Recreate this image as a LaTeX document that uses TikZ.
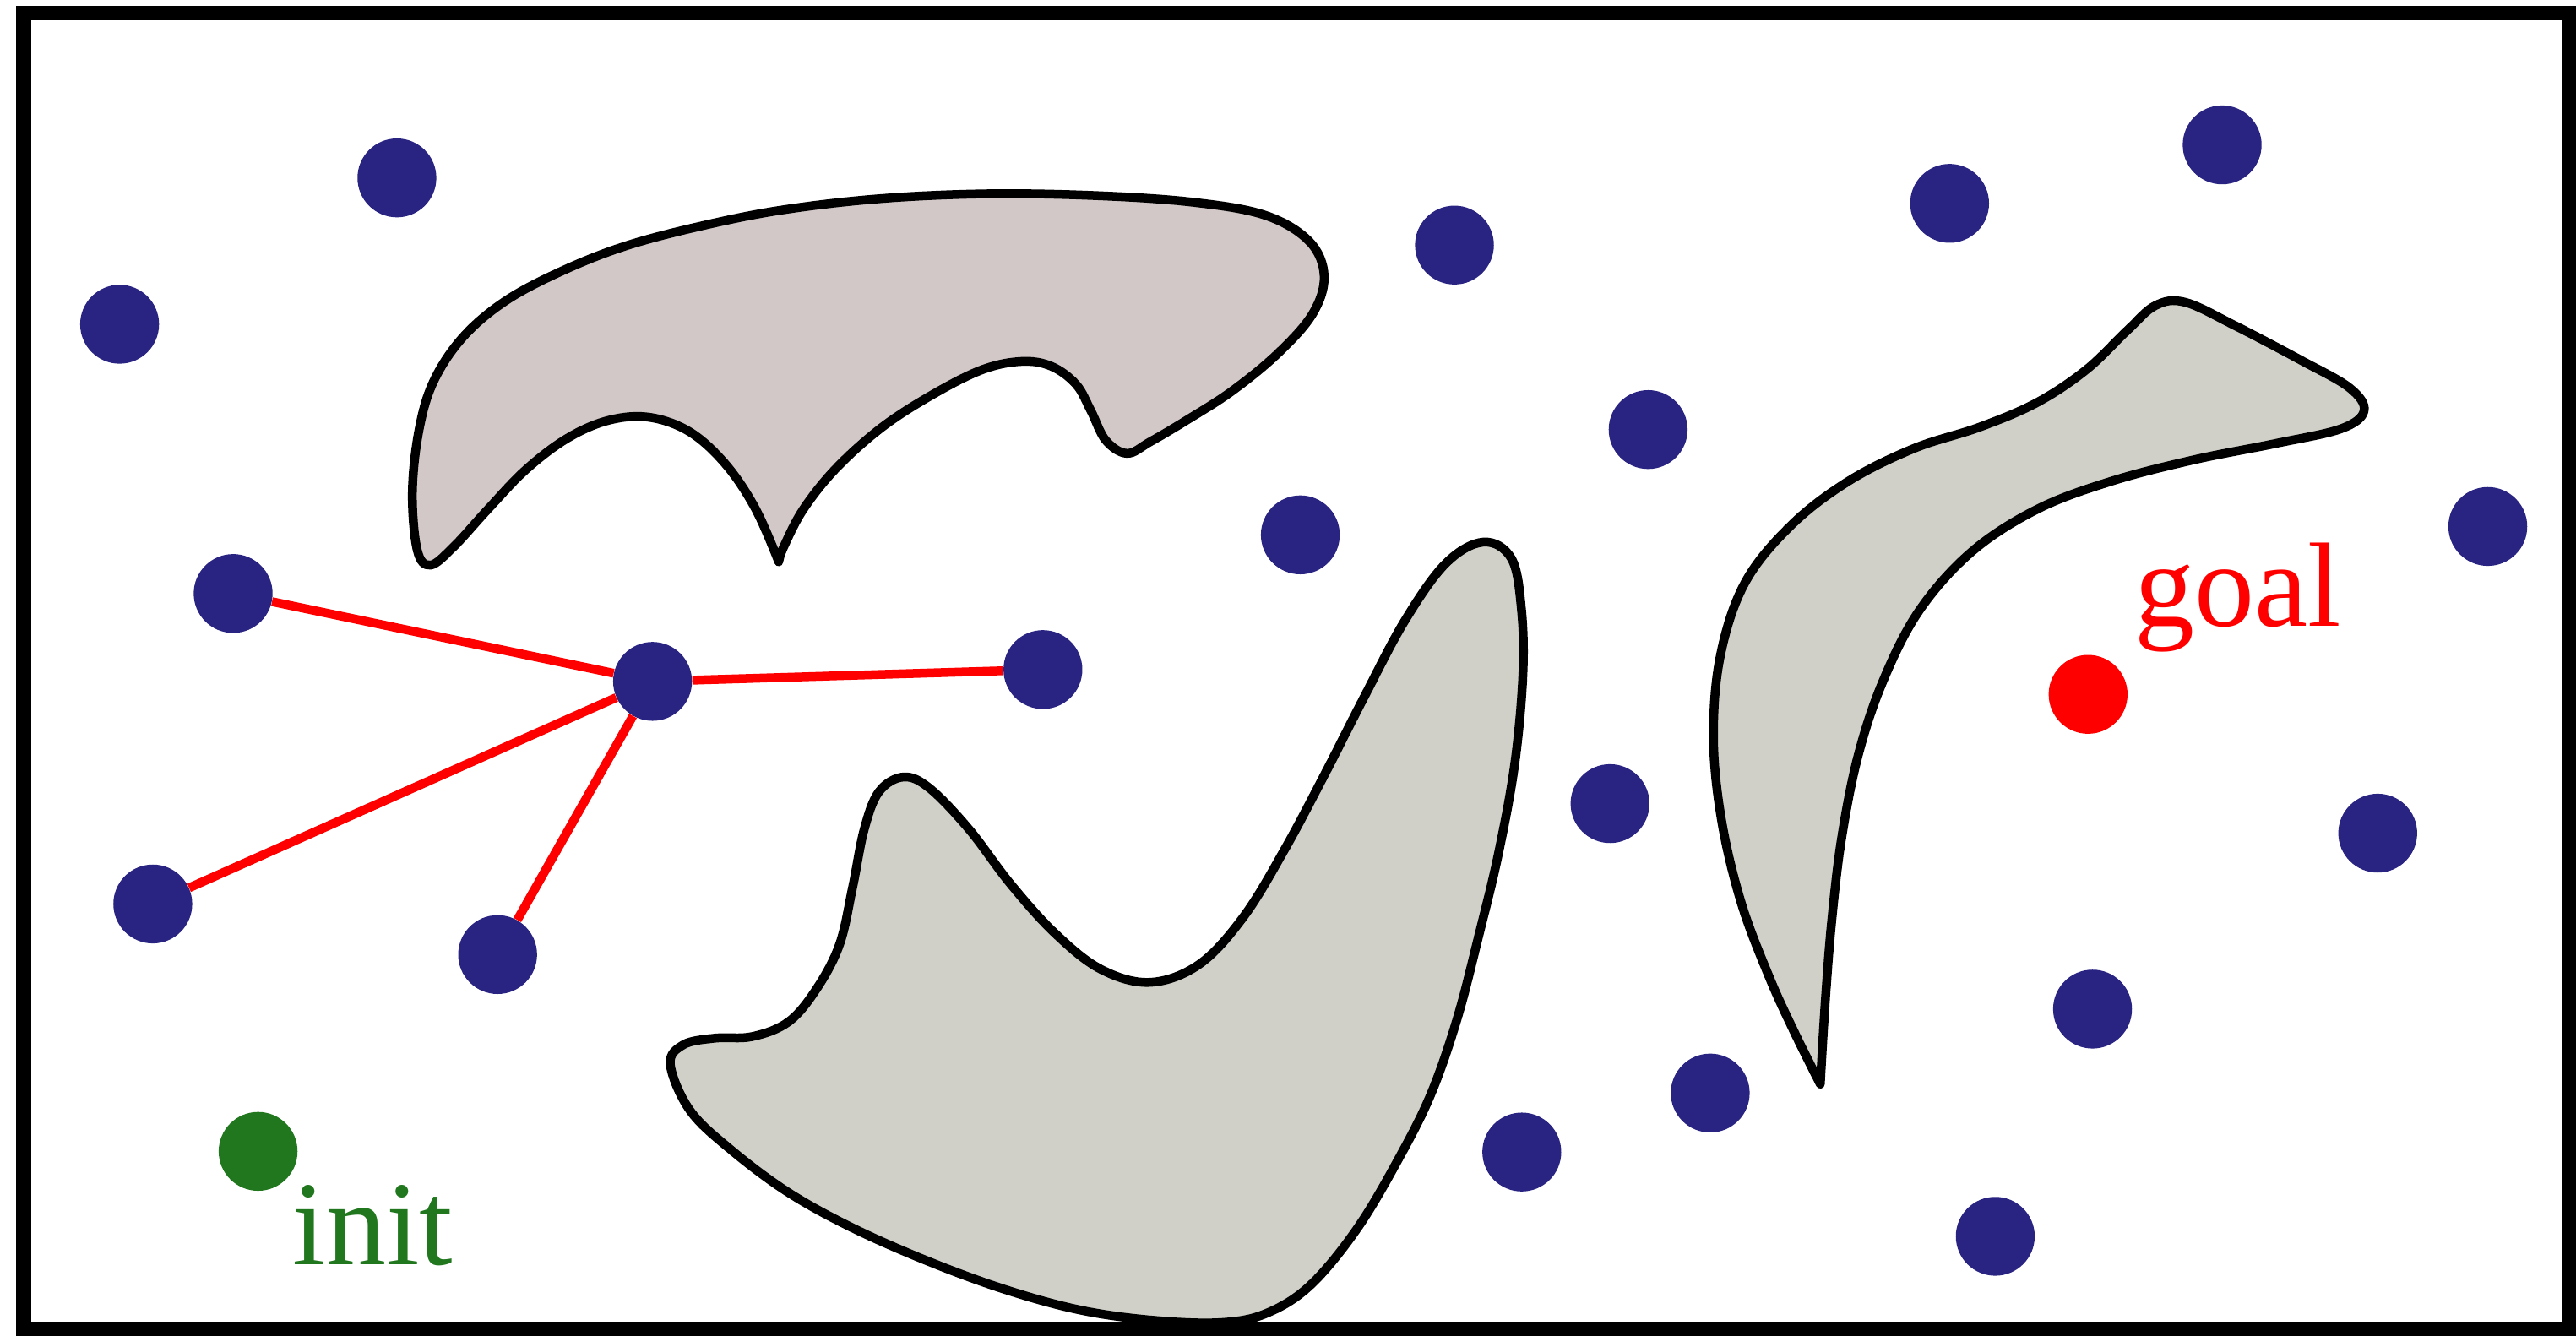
\documentclass[tikz,border=0pt]{standalone}
\usepackage{fontspec}
\setmainfont{Liberation Serif}
\definecolor{dotblue}{RGB}{41,36,130}
\definecolor{initgreen}{RGB}{33,119,30}
\definecolor{goalred}{RGB}{255,0,0}
\definecolor{fillA}{RGB}{210,200,200}
\definecolor{fillB}{RGB}{208,208,200}
\tikzset{
  obstacle/.style={draw=black, line width=5.4pt, line join=round},
  sample/.style={circle, fill=dotblue, inner sep=0pt, minimum size=48pt},
  initdot/.style={sample, fill=initgreen},
  goaldot/.style={sample, fill=goalred},
  rrtedge/.style={draw=goalred, line width=5.4pt},
  lbl/.style={inner sep=0pt, font=\fontsize{73}{80}\selectfont}
}
\begin{document}
\begin{tikzpicture}[x=1pt,y=-1pt]
\useasboundingbox (0,0) rectangle (1568,813);

% obstacle A (top)
\draw[obstacle, fill=fillA] plot[smooth, tension=0.6] coordinates {
 (474,342) (460,310) (442,283) (420,263) (395,254) (370,256) (345,267) (320,286)
 (297,310) (276,333) (262,344) (254,335) (251,300) (255,262) (264,232) (282,205)
 (308,183) (342,165) (380,150) (425,138) (475,128) (535,121) (600,118) (665,119)
 (725,123) (770,131) (797,147) (806,168) (799,191) (778,215) (750,238) (722,256)
 (700,269) (686,276) (673,268) (664,250) (655,234) (640,223) (622,220) (598,225)
 (568,240) (537,260) (509,285) (489,310) (477,333) (474,342)} -- cycle;

% obstacle B (bottom middle)
\draw[obstacle, fill=fillB] plot[smooth cycle, tension=0.6] coordinates {
 (408,648) (416,636) (435,632) (458,631) (480,622) (497,602) (511,575) (519,540)
 (526,505) (535,482) (550,473) (566,480) (590,505) (615,538) (642,568) (670,590)
 (700,598) (730,587) (757,558) (782,517) (806,472) (830,425) (855,378) (880,343)
 (903,330) (920,340) (926,370) (927,410) (922,465) (912,520) (900,570) (887,620)
 (871,666) (851,706) (826,748) (798,782) (772,799) (745,805) (705,804) (660,798)
 (615,786) (568,769) (520,748) (480,726) (445,700) (420,676)};

% obstacle C (right)
\draw[obstacle, fill=fillB] plot[smooth, tension=0.6] coordinates {
 (1108,660) (1111,610) (1115,560) (1121,510) (1131,460) (1146,415) (1168,372)
 (1200,336) (1240,310) (1285,293) (1335,280) (1385,270) (1425,261) (1439,250)
 (1430,236) (1400,219) (1360,198) (1330,184) (1312,186) (1295,201) (1270,225)
 (1240,245) (1205,260) (1165,273) (1125,293) (1090,320) (1062,355) (1047,400)
 (1043,450) (1048,500) (1060,550) (1077,595) (1093,630) (1108,660)} -- cycle;

% samples
\node[sample] (s1) at (241.6,108.3) {};
\node[sample] (s2) at (72.8,197.4) {};
\node[sample] (s3) at (885.3,149.2) {};
\node[sample] (s4) at (1186.7,123.8) {};
\node[sample] (s5) at (1352.6,88.2) {};
\node[sample] (s6) at (1003.2,261.5) {};
\node[sample] (s7) at (791.5,325.6) {};
\node[sample] (s8) at (1514.3,320.5) {};
\node[sample] (s9) at (141.9,361.3) {};
\node[sample] (hub) at (397.2,414.8) {};
\node[sample] (s11) at (634.8,407.6) {};
\node[sample] (s12) at (93,550.3) {};
\node[sample] (s13) at (302.9,581.1) {};
\node[sample] (s14) at (980,489.2) {};
\node[sample] (s15) at (1447.3,507.2) {};
\node[sample] (s16) at (1273.7,614.3) {};
\node[sample] (s17) at (1041,665.4) {};
\node[sample] (s18) at (926.3,701.3) {};
\node[sample] (s19) at (1214.5,752.6) {};

% tree edges
\draw[rrtedge] (hub) -- (s9);
\draw[rrtedge] (hub) -- (s11);
\draw[rrtedge] (hub) -- (s12);
\draw[rrtedge] (hub) -- (s13);

% init and goal
\node[initdot] (init) at (157.1,700.9) {};
\node[goaldot] (goal) at (1271,422.7) {};
\node[lbl, text=initgreen, anchor=base west] (initlbl) at (178,770) {init};
\node[lbl, text=goalred, anchor=base west] (goallbl) at (1299,381) {goal};

% frame
\draw[line width=9pt] (14.5,8) rectangle (1563.5,809);
\end{tikzpicture}
\end{document}
